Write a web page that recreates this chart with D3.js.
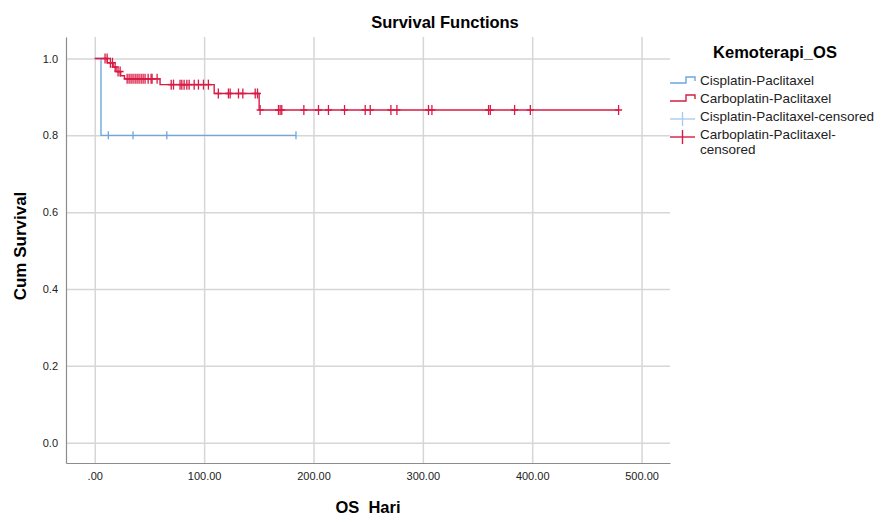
<!DOCTYPE html>
<html>
<head>
<meta charset="utf-8">
<script src="https://cdn.jsdelivr.net/npm/d3@7"></script>
<style>
  body { margin: 0; background: #fff; }
  svg text { font-family: "Liberation Sans", Arial, sans-serif; }
</style>
</head>
<body>
<div id="chart"></div>
<script>
// survival data (days, cum survival)
var groups = ['Cisplatin-Paclitaxel', 'Carboplatin-Paclitaxel']
var cisEventTimes = [0, 5.7]
var cisEventSurv = [1.0, 0.8]
var cisEnd = 184
var cisCensored = [12.4, 35, 65.9, 184]

var carbEventTimes = [0, 11.5, 16.8, 19.5, 23.6, 27.2, 59.7, 109.2, 150.3]
var carbEventSurv = [1.0, 0.989, 0.978, 0.966, 0.955, 0.947, 0.932, 0.909, 0.866]
var carbEnd = 479
var carbCensored = [9.4, 11.3, 14.3, 16.2, 18.6, 21.3, 23.2, 29.6, 31.4, 33.2, 35, 36.9,
    38.7, 40.5, 42.4, 44.2, 46, 48.8, 51.5, 52.4, 57, 69.9, 72, 78, 79.6, 81.7, 84.2, 86.3,
    90.9, 94.8, 99.4, 103.9, 113, 122.2, 123.8, 131.4, 135.4, 146.7, 148.8, 151.2, 168,
    169.5, 171, 191.2, 204.6, 213.7, 228.4, 247.3, 251.9, 270.8, 276.3, 305.2, 308.3,
    360.1, 361.7, 383.9, 398.3, 479]

var xTicks = [0, 100, 200, 300, 400, 500]
var yTicks = [0, 0.2, 0.4, 0.6, 0.8, 1.0]

var colors = ['#6fa6e0', '#d81b45']

var width = 879, height = 515
var margin = {left: 66, top: 37, right: 209, bottom: 52}
var w = width - margin.left - margin.right
var h = height - margin.top - margin.bottom

var svg = d3.select('#chart')
    .append('svg')
    .attr('width', width)
    .attr('height', height)

var x = d3.scaleLinear().domain([-26.3, 526]).range([0, w])
var y = d3.scaleLinear().domain([-0.053, 1.056]).range([h, 0])

var g = svg.append('g')
    .attr('transform', 'translate(' + margin.left + ',' + margin.top + ')')

// gridlines
g.append('g')
    .attr('class', 'xgrid')
    .attr('transform', 'translate(0,' + h + ')')
    .call(d3.axisBottom(x).tickValues(xTicks).tickSize(-h).tickFormat(''))
g.append('g')
    .attr('class', 'ygrid')
    .call(d3.axisLeft(y).tickValues(yTicks).tickSize(-w).tickFormat(''))
g.selectAll('.xgrid line, .ygrid line')
    .attr('stroke', '#d6d6d6')
    .attr('stroke-width', 1.5)
g.selectAll('.xgrid .domain, .ygrid .domain').remove()

// axes
var xAxis = g.append('g')
    .attr('transform', 'translate(0,' + h + ')')
    .call(d3.axisBottom(x).tickValues(xTicks).tickSize(0).tickPadding(9)
        .tickFormat(function(d) { return d === 0 ? '.00' : d3.format('.2f')(d) }))
var yAxis = g.append('g')
    .call(d3.axisLeft(y).tickValues(yTicks).tickSize(0).tickPadding(8)
        .tickFormat(d3.format('.1f')))

xAxis.select('.domain').attr('stroke', '#8c8c8c').attr('stroke-width', 1.2)
yAxis.select('.domain').attr('stroke', '#8c8c8c').attr('stroke-width', 1.2)
g.selectAll('.tick text').attr('font-size', 11).attr('fill', '#222')

function stepPoints(times, surv, end) {
    var pts = []
    for (var i = 0; i < times.length; i++) {
        if (i > 0) pts.push([times[i], surv[i - 1]])
        pts.push([times[i], surv[i]])
    }
    pts.push([end, surv[surv.length - 1]])
    return pts
}

function survAt(t, times, surv) {
    var s = surv[0]
    for (var i = 0; i < times.length; i++) {
        if (times[i] <= t) s = surv[i]
    }
    return s
}

var line = d3.line()
    .x(function(d) { return x(d[0]) })
    .y(function(d) { return y(d[1]) })

var series = [
    {times: cisEventTimes, surv: cisEventSurv, end: cisEnd, cens: cisCensored, color: colors[0], mh: 4, mw: 0},
    {times: carbEventTimes, surv: carbEventSurv, end: carbEnd, cens: carbCensored, color: colors[1], mh: 5, mw: 3.5}
]

series.forEach(function(s) {
    g.append('path')
        .datum(stepPoints(s.times, s.surv, s.end))
        .attr('d', line)
        .attr('fill', 'none')
        .attr('stroke', s.color)
        .attr('stroke-width', 1.4)

    var cg = g.append('g')
    s.cens.forEach(function(t) {
        var cx = x(t), cy = y(survAt(t, s.times, s.surv))
        cg.append('line')
            .attr('x1', cx).attr('x2', cx)
            .attr('y1', cy - s.mh).attr('y2', cy + s.mh)
            .attr('stroke', s.color).attr('stroke-width', 1.3)
        if (s.mw > 0) {
            cg.append('line')
                .attr('x1', cx - s.mw).attr('x2', cx + s.mw)
                .attr('y1', cy).attr('y2', cy)
                .attr('stroke', s.color).attr('stroke-width', 1.5)
        }
    })
})

// titles
svg.append('text')
    .attr('x', 445).attr('y', 28)
    .attr('text-anchor', 'middle')
    .attr('font-size', 16.5).attr('font-weight', 'bold')
    .text('Survival Functions')

svg.append('text')
    .attr('transform', 'translate(26,246) rotate(-90)')
    .attr('text-anchor', 'middle')
    .attr('font-size', 17).attr('font-weight', 'bold')
    .text('Cum Survival')

svg.append('text')
    .attr('x', 368).attr('y', 513)
    .attr('text-anchor', 'middle')
    .attr('font-size', 16.5).attr('font-weight', 'bold')
    .attr('xml:space', 'preserve')
    .style('white-space', 'pre')
    .text('OS  Hari')

// legend
var leg = svg.append('g')
leg.append('text')
    .attr('x', 775).attr('y', 58)
    .attr('text-anchor', 'middle')
    .attr('font-size', 16.5).attr('font-weight', 'bold')
    .text('Kemoterapi_OS')

var legItems = [
    {label: [groups[0]], color: colors[0], type: 'step', y: 80},
    {label: [groups[1]], color: colors[1], type: 'step', y: 98},
    {label: [groups[0] + '-censored'], color: '#a9cdf0', type: 'cens', y: 116},
    {label: [groups[1] + '-', 'censored'], color: colors[1], type: 'cens', y: 134}
]

legItems.forEach(function(d) {
    if (d.type === 'step') {
        leg.append('path')
            .attr('d', 'M670,' + (d.y + 3) + 'H686V' + (d.y - 3) + 'H695V' + (d.y + 1))
            .attr('fill', 'none')
            .attr('stroke', d.color)
            .attr('stroke-width', 1.4)
    } else {
        leg.append('line')
            .attr('x1', 670).attr('x2', 695)
            .attr('y1', d.y + 3).attr('y2', d.y + 3)
            .attr('stroke', d.color).attr('stroke-width', 1.4)
        leg.append('line')
            .attr('x1', 682.5).attr('x2', 682.5)
            .attr('y1', d.y - 4).attr('y2', d.y + 10)
            .attr('stroke', d.color).attr('stroke-width', 1.4)
    }
    d.label.forEach(function(t, i) {
        leg.append('text')
            .attr('x', 700).attr('y', d.y + 5 + i * 14.5)
            .attr('font-size', 13.5).attr('fill', '#222')
            .text(t)
    })
})
</script>
</body>
</html>
